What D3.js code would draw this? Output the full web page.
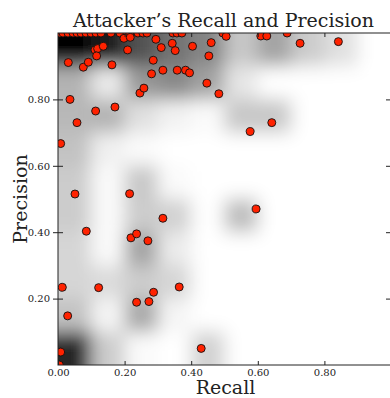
<!DOCTYPE html>
<html>
<head>
<meta charset="utf-8">
<script src="https://cdn.jsdelivr.net/npm/d3@7"></script>
<style>
  body { margin: 0; background: #fff; }
  text { font-family: "DejaVu Serif", serif; fill: #222; }
</style>
</head>
<body>
<div id="chart"></div>
<script>
//scatter points
var recall = [
  0.006, 0.015, 0.030, 0.045, 0.057, 0.069, 0.084, 0.099, 0.114, 0.129, 0.159,
  0.186, 0.207, 0.216, 0.240, 0.255, 0.267, 0.345, 0.357, 0.372, 0.495, 0.688,
  0.031, 0.036, 0.057, 0.076, 0.091, 0.113, 0.111, 0.119, 0.116, 0.136, 0.162,
  0.171, 0.198, 0.209, 0.217, 0.246, 0.258, 0.281, 0.286, 0.294, 0.310, 0.315,
  0.343, 0.352, 0.358, 0.383, 0.395, 0.404, 0.447, 0.453, 0.460, 0.483, 0.505,
  0.577, 0.609, 0.627, 0.642, 0.727, 0.842,
  0.008, 0.051, 0.085, 0.215, 0.219, 0.236, 0.270, 0.315, 0.595,
  0.013, 0.122, 0.029, 0.008, 0.004, 0.236, 0.273, 0.287, 0.364, 0.430
];
var precision = [
  1.000, 1.000, 1.000, 1.000, 1.000, 1.000, 1.000, 1.000, 1.000, 1.000, 1.000,
  1.000, 1.000, 1.000, 1.000, 1.000, 1.000, 1.000, 1.000, 1.000, 1.000, 1.000,
  0.911, 0.800, 0.730, 0.897, 0.912, 0.765, 0.949, 0.953, 0.931, 0.960, 0.904,
  0.777, 0.984, 0.949, 0.987, 0.819, 0.834, 0.877, 0.918, 0.981, 0.956, 0.888,
  0.969, 0.947, 0.888, 0.888, 0.880, 0.960, 0.849, 0.931, 0.971, 0.817, 0.990,
  0.703, 0.991, 0.991, 0.730, 0.969, 0.974,
  0.667, 0.515, 0.403, 0.516, 0.383, 0.395, 0.374, 0.442, 0.470,
  0.234, 0.233, 0.148, 0.039, 0.000, 0.189, 0.191, 0.219, 0.235, 0.050
];

//shading of the 10x10 background grid, top row (precision 0.9-1.0) first, 0 = white, 1 = black
var density = [
  [1.00, 0.90, 0.68, 0.55, 0.48, 0.22, 0.36, 0.20, 0.12, 0.00],
  [0.30, 0.08, 0.40, 0.46, 0.36, 0.10, 0.00, 0.00, 0.00, 0.00],
  [0.28, 0.30, 0.12, 0.05, 0.02, 0.22, 0.22, 0.00, 0.00, 0.00],
  [0.24, 0.06, 0.02, 0.00, 0.00, 0.00, 0.00, 0.00, 0.00, 0.00],
  [0.20, 0.02, 0.22, 0.02, 0.00, 0.00, 0.00, 0.00, 0.00, 0.00],
  [0.20, 0.02, 0.20, 0.18, 0.00, 0.26, 0.00, 0.00, 0.00, 0.00],
  [0.16, 0.02, 0.36, 0.08, 0.00, 0.00, 0.00, 0.00, 0.00, 0.00],
  [0.16, 0.14, 0.20, 0.16, 0.00, 0.00, 0.00, 0.00, 0.00, 0.00],
  [0.24, 0.04, 0.34, 0.04, 0.00, 0.00, 0.00, 0.00, 0.00, 0.00],
  [0.85, 0.20, 0.02, 0.00, 0.18, 0.00, 0.00, 0.00, 0.00, 0.00]
];

var xTicks = [0, 0.2, 0.4, 0.6, 0.8];
var yTicks = [0.2, 0.4, 0.6, 0.8];

//svg size and plot borders
var svgWidth = 390;
var svgHeight = 398;
var margin = { top: 33, right: -1, bottom: 33, left: 58 };
var width = svgWidth - margin.left - margin.right;
var height = svgHeight - margin.top - margin.bottom;

var svg = d3.select("#chart")
  .append("svg")
  .attr("width", svgWidth)
  .attr("height", svgHeight);

var x = d3.scaleLinear().domain([0, 1]).range([0, width]);
var y = d3.scaleLinear().domain([0, 1]).range([height, 0]);
var shade = d3.scaleLinear().domain([0, 1]).range(["#ffffff", "#000000"]);

var defs = svg.append("defs");
defs.append("clipPath")
  .attr("id", "plotClip")
  .append("rect")
  .attr("width", width)
  .attr("height", height);

defs.append("filter")
  .attr("id", "soft")
  .attr("filterUnits", "userSpaceOnUse")
  .attr("x", -80).attr("y", -80)
  .attr("width", width + 160).attr("height", height + 160)
  .append("feGaussianBlur")
  .attr("stdDeviation", 9);

var chartGroup = svg.append("g")
  .attr("transform", `translate(${margin.left}, ${margin.top})`);

//flatten grid into cells
var cells = [];
density.forEach(function(row, r) {
  row.forEach(function(v, c) {
    cells.push({ col: c, row: 9 - r, v: v });
  });
});

//edge cells are stretched outward so the blur doesn't fade at the border
var pad = 50;
chartGroup.append("g")
  .attr("clip-path", "url(#plotClip)")
  .append("g")
  .attr("filter", "url(#soft)")
  .selectAll("rect")
  .data(cells)
  .enter()
  .append("rect")
  .attr("x", d => x(d.col / 10) - (d.col === 0 ? pad : 0))
  .attr("y", d => y((d.row + 1) / 10) - (d.row === 9 ? pad : 0))
  .attr("width", d => x(0.1) - x(0) + (d.col === 0 || d.col === 9 ? pad : 0) + 0.5)
  .attr("height", d => y(0) - y(0.1) + (d.row === 0 || d.row === 9 ? pad : 0) + 0.5)
  .attr("fill", d => shade(d.v));

//points
var points = recall.map((r, i) => ({ r: r, p: precision[i] }));
chartGroup.append("g")
  .attr("clip-path", "url(#plotClip)")
  .selectAll("circle")
  .data(points)
  .enter()
  .append("circle")
  .attr("cx", d => x(d.r))
  .attr("cy", d => y(d.p))
  .attr("r", 4)
  .attr("fill", "#ff2200")
  .attr("stroke", "#111")
  .attr("stroke-width", 0.9);

//axes, ticks point inward
var bottomAxis = d3.axisBottom(x).tickValues(xTicks).tickFormat(d3.format(".2f"))
  .tickSizeInner(-4).tickSizeOuter(0).tickPadding(4);
var topAxis = d3.axisTop(x).tickValues(xTicks.slice(1)).tickFormat("")
  .tickSizeInner(-4).tickSizeOuter(0);
var leftAxis = d3.axisLeft(y).tickValues(yTicks).tickFormat(d3.format(".2f"))
  .tickSizeInner(5).tickSizeOuter(0).tickPadding(3);
var rightAxis = d3.axisRight(y).tickValues(yTicks).tickFormat("")
  .tickSizeInner(-5).tickSizeOuter(0);

var gx = chartGroup.append("g").attr("transform", `translate(0, ${height})`).call(bottomAxis);
var gt = chartGroup.append("g").call(topAxis);
var gy = chartGroup.append("g").call(leftAxis);
var gr = chartGroup.append("g").attr("transform", `translate(${width}, 0)`).call(rightAxis);

//left ticks cross the spine
gy.selectAll(".tick line").attr("x1", 5);

[gx, gt, gy, gr].forEach(function(g) {
  g.select(".domain").remove();
  g.selectAll("line").attr("stroke", "#222");
  g.selectAll("text")
    .attr("font-family", "DejaVu Serif")
    .attr("font-size", 10)
    .attr("fill", "#222");
});

//spines
chartGroup.append("rect")
  .attr("width", width)
  .attr("height", height)
  .attr("fill", "none")
  .attr("stroke", "#222")
  .attr("stroke-width", 1);

//titles
svg.append("text")
  .attr("x", margin.left + width / 2 - 1)
  .attr("y", 27)
  .attr("text-anchor", "middle")
  .attr("font-size", 19)
  .text("Attacker’s Recall and Precision");

svg.append("text")
  .attr("x", margin.left + width / 2 + 1)
  .attr("y", 394)
  .attr("text-anchor", "middle")
  .attr("font-size", 19)
  .text("Recall");

svg.append("text")
  .attr("transform", `translate(27, ${margin.top + height / 2}) rotate(-90)`)
  .attr("text-anchor", "middle")
  .attr("font-size", 19)
  .text("Precision");
</script>
</body>
</html>
